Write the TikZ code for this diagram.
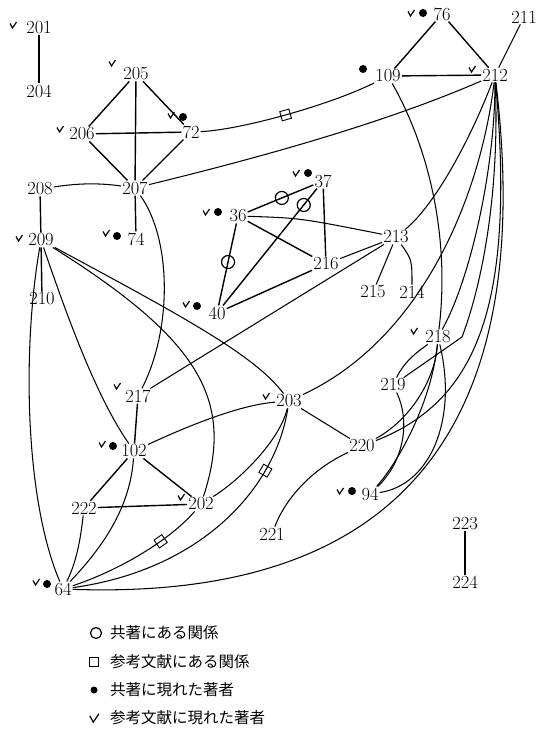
\documentclass[tikz,border=0pt]{standalone}
\usepackage{fontspec}
\newfontfamily\cjk{Noto Sans CJK JP}
\usepackage{tikz}

\begin{document}
\begin{tikzpicture}[x=1pt, y=-1pt,
  num/.style={inner sep=1pt, font=\fontsize{18.5}{18.5}\selectfont},
  sl/.style={line width=1.4pt},
  cl/.style={line width=1.05pt},
  dot/.style={fill, circle, inner sep=0pt, minimum size=8pt},
  circ/.style={draw, circle, line width=1.2pt, minimum size=13pt, inner sep=0pt},
  sq/.style={draw, rectangle, line width=0.9pt, minimum size=9.5pt, inner sep=0pt, sloped},
  lgd/.style={anchor=west, inner sep=0pt, font=\cjk\fontsize{15.5}{16}\selectfont},
  chk/.pic={\draw[line width=1.2pt] (-3,-1.5) -- (-0.5,3) -- (3.5,-3);}]
  \useasboundingbox (0,0) rectangle (547,742);

  % authors
  \node[num] (n201) at (39,28) {201};
  \node[num] (n204) at (39,91) {204};
  \node[num] (n205) at (136,74) {205};
  \node[num] (n206) at (82,134) {206};
  \node[num] (n72) at (191,132) {72};
  \node[num] (n207) at (135,188) {207};
  \node[num] (n208) at (40,189) {208};
  \node[num] (n209) at (41,240) {209};
  \node[num] (n210) at (42,299) {210};
  \node[num] (n74) at (136,239) {74};
  \node[num] (n36) at (238,216) {36};
  \node[num] (n37) at (323,181) {37};
  \node[num] (n216) at (326,264) {216};
  \node[num] (n213) at (396,237) {213};
  \node[num] (n215) at (373,292) {215};
  \node[num] (n214) at (412,292) {214};
  \node[num] (n40) at (217,313) {40};
  \node[num] (n76) at (442,14) {76};
  \node[num] (n109) at (388,76) {109};
  \node[num] (n212) at (495,75) {212};
  \node[num] (n211) at (524,17) {211};
  \node[num] (n217) at (138,396) {217};
  \node[num] (n203) at (289,401) {203};
  \node[num] (n218) at (438,337) {218};
  \node[num] (n219) at (393,385) {219};
  \node[num] (n220) at (362,446) {220};
  \node[num] (n94) at (370,494) {94};
  \node[num] (n102) at (134,451) {102};
  \node[num] (n222) at (84,508) {222};
  \node[num] (n202) at (201,504) {202};
  \node[num] (n221) at (272,534) {221};
  \node[num] (n64) at (63,589) {64};
  \node[num] (n223) at (465,524) {223};
  \node[num] (n224) at (465,582) {224};
  \coordinate (k219) at (462,337);

  % marks
  \pic at (13,25) {chk};
  \pic at (112,63) {chk};
  \pic at (60,129) {chk};
  \pic at (171,115) {chk}; \node[dot] (d72) at (183,117) {};
  \pic at (19,238) {chk};
  \pic at (106,233) {chk}; \node[dot] (d74) at (117,236) {};
  \pic at (206,212) {chk}; \node[dot] (d36) at (218,212) {};
  \pic at (296,173) {chk}; \node[dot] (d37) at (308,173) {};
  \pic at (186,304) {chk}; \node[dot] (d40) at (197,306) {};
  \pic at (411,13) {chk}; \node[dot] (d76) at (423,13) {};
  \node[dot] (d109) at (363,69) {};
  \pic at (472,69) {chk};
  \pic at (117,386) {chk};
  \pic at (266,396) {chk};
  \pic at (414,331) {chk};
  \pic at (340,491) {chk}; \node[dot] (d94) at (352,491) {};
  \pic at (102,444) {chk}; \node[dot] (d102) at (113,446) {};
  \pic at (181,497) {chk};
  \pic at (36,582) {chk}; \node[dot] (d64) at (47,584) {};

  % straight links
  \draw[sl] (n201) -- (n204);
  \draw[sl] (n205) -- (n206);
  \draw[sl] (n205) -- (n207);
  \draw[sl] (n205) -- (n72);
  \draw[sl] (n206) -- (n72);
  \draw[sl] (n206) -- (n207);
  \draw[sl] (n72) -- (n207);
  \draw[sl] (n207) -- (n74);
  \draw[sl] (n208) -- (n209);
  \draw[sl] (n209) -- (n210);
  \draw[sl] (n76) -- (n109);
  \draw[sl] (n76) -- (n212);
  \draw[sl] (n109) -- (n212);
  \draw[cl] (n211) -- (n212);
  \draw[sl] (n36) -- node[circ, pos=0.52] (c1) {} (n37);
  \draw[sl] (n40) -- node[circ, pos=0.86] (c2) {} (n37);
  \draw[sl] (n36) -- node[circ, pos=0.47] (c3) {} (n40);
  \draw[sl] (n37) -- (n216);
  \draw[sl] (n36) -- (n216);
  \draw[sl] (n40) -- (n216);
  \draw[cl] (n216) -- (n213);
  \draw[cl] (n217) -- (n213);
  \draw[cl] (n213) -- (n215);
  \draw[cl] (n213) .. controls (412,260) .. (n214);
  \draw[sl] (n217) -- (n102);
  \draw[sl] (n102) -- (n222);
  \draw[sl] (n102) -- (n202);
  \draw[sl] (n222) -- (n202);
  \draw[cl] (n203) -- (n220);
  \draw[sl] (n223) -- (n224);

  % curved links
  \draw[cl] (n208) .. controls (80,183) and (100,183) .. (n207);
  \draw[cl] (n72) .. controls (240,130) and (330,105) .. node[sq] (s1) {} (n109);
  \draw[cl] (n207) .. controls (250,160) and (380,125) .. (n212);
  \draw[cl] (n207) .. controls (172,240) and (172,330) .. (n217);
  \draw[cl] (n36) .. controls (300,218) .. (n213);
  \draw[cl] (n209) .. controls (22,350) and (25,500) .. (n64);
  \draw[cl] (n209) .. controls (65,310) and (95,395) .. (n102);
  \draw[cl] (n209) .. controls (200,340) and (235,400) .. (n202);
  \draw[cl] (n209) .. controls (180,315) and (255,355) .. (n203);
  \draw[cl] (n102) .. controls (190,425) and (240,405) .. (n203);
  \draw[cl] (n102) .. controls (130,510) and (100,550) .. (n64);
  \draw[cl] (n222) .. controls (80,545) and (75,565) .. (n64);
  \draw[cl] (n202) .. controls (170,540) and (120,570) .. node[sq, pos=0.35] (s2) {} (n64);
  \draw[cl] (n203) .. controls (275,490) and (200,570) .. node[sq, pos=0.26] (s3) {} (n64);
  \draw[cl] (n203) .. controls (280,440) and (240,480) .. (n202);
  \draw[cl] (n212) .. controls (480,200) and (420,340) .. (n203);
  \draw[cl] (n212) .. controls (470,140) and (435,205) .. (n213);
  \draw[cl] (n212) .. controls (495,170) and (470,280) .. (n218);
  \draw[cl] (n212) .. controls (500,200) and (480,290) .. (k219) -- (n219);
  \draw[cl] (n212) .. controls (515,300) and (480,400) .. (n220);
  \draw[cl] (n212) .. controls (540,450) and (380,600) .. (n64);
  \draw[cl] (n109) .. controls (430,150) and (450,240) .. (n218);
  \draw[cl] (n218) .. controls (458,420) and (430,485) .. (n94);
  \draw[cl] (n218) .. controls (432,400) and (400,460) .. (n94);
  \draw[cl] (n218) .. controls (435,380) and (410,420) .. (n220);
  \draw[cl] (n219) .. controls (405,360) and (420,350) .. (n218);
  \draw[cl] (n219) .. controls (410,420) and (405,460) .. (n94);
  \draw[cl] (n220) .. controls (310,470) and (285,500) .. (n221);

  % legend
  \node[draw, circle, line width=1.2pt, minimum size=11pt, inner sep=0pt] (lc) at (96,633) {};
  \node[lgd] (lg1) at (110,633) {共著にある関係};
  \node[draw, line width=1.2pt, minimum size=9pt, inner sep=0pt] (ls) at (94,662) {};
  \node[lgd] (lg2) at (110,662) {参考文献にある関係};
  \node[dot, minimum size=7pt] (ld) at (94,690) {};
  \node[lgd] (lg3) at (110,690) {共著に現れた著者};
  \pic[scale=1.4] at (94,718) {chk};
  \node[lgd] (lg4) at (110,718) {参考文献に現れた著者};
\end{tikzpicture}
\end{document}
